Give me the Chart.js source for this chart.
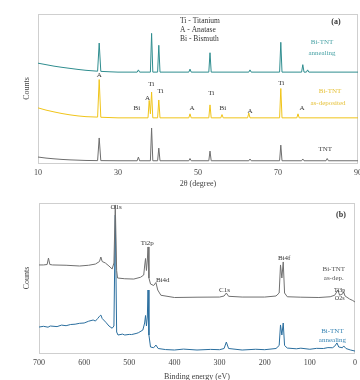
<!DOCTYPE html>
<html><head><meta charset="utf-8">
<script src="https://cdn.jsdelivr.net/npm/chart.js@4.4.1/dist/chart.umd.min.js"></script>
<style>
html,body{margin:0;padding:0;background:#fff;overflow:hidden}
#wrap{position:relative;width:360px;height:380px;overflow:hidden}
canvas{position:absolute;left:0}
</style></head><body>
<div id="wrap">
<canvas id="xrd" width="360" height="190" style="top:0"></canvas>
<canvas id="xps" width="360" height="192" style="top:190px"></canvas>
</div>
<script>
// ---------- XRD data (2θ in degrees, counts in arbitrary offset units) ----------
const xrdTicks = [10, 30, 50, 70, 90];
const annealTheta  = [10,12,14,16,18,20,22,24.9,25.3,25.7,28,30,34.8,35.1,35.4,36,38.1,38.4,38.7,39.9,40.2,40.5,44,47.7,48.0,48.3,52.7,53.0,53.3,58,62.7,63.0,63.3,70.4,70.7,71.0,75.9,76.2,76.5,77.1,77.4,77.7,82,90];
const annealCounts = [67,66,65,64.2,63.5,62.8,62.2,61.6,80.5,61.5,61.2,61,61,62.5,61,61,61,87,61,61,79,61,61,61,63,61,61,74,61,61,61,62.5,61,61,81,61,61,66,61,61,62.5,61,61,61];
const depTheta  = [10,12,14,16,18,20,22,24.9,25.3,25.7,30,35,37.5,37.8,38.1,38.4,38.7,39.9,40.2,40.5,44,47.7,48.0,48.3,52.7,53.0,53.3,55.7,56.0,56.3,62.4,62.7,63.0,70.4,70.7,71.0,74.7,75.0,75.3,90];
const depCounts = [37,35.5,34.3,33.2,32.3,31.6,31.1,30.8,56,30.7,30.3,30.3,30.3,42,33,47.6,30.3,30.3,42.3,30.3,30.3,30.3,33,30.3,30.3,39,30.3,30.3,32.5,30.3,30.3,33.5,30.3,30.3,50,30.3,30.3,33,30.3,30.3];
const tntTheta  = [10,12,14,16,18,20,22,24.9,25.3,25.7,30,34.8,35.1,35.4,38.1,38.4,38.7,39.9,40.2,40.5,47.7,48.0,48.3,52.7,53.0,53.3,62.7,63.0,63.3,70.4,70.7,71.0,75.9,76.2,76.5,82.0,82.3,82.6,90];
const tntCounts = [4,3.3,2.8,2.4,2.1,1.9,1.7,1.6,16.8,1.6,1.5,1.5,4,1.5,1.5,23.5,1.5,1.5,10,1.5,1.5,3,1.5,1.5,8,1.5,1.5,2.7,1.5,1.5,12,1.5,1.5,2.7,1.5,1.5,3,1.5,1.5];

// ---------- XPS data (binding energy in eV, counts in arbitrary offset units) ----------
const xpsTicks = [700, 600, 500, 400, 300, 200, 100, 0];
const depEnergy  = [700,690,682,679,676,670,640,610,590,575,566,563,560,553,545,538,534,531,528,526,510,490,475,468,466,464,462,460,458.5,456.5,453,446,441,437,430,400,350,300,290,285,280,250,200,175,168,165,162,159,156,150,120,80,55,45,38,34,27,25,22,12,5,0];
const depXps     = [58.7,58.7,59,63.3,59,58.7,58.5,58,58.5,59.3,61,64,61,60,58,56,60,98.7,55,50,49.5,49.3,50.5,52,58,63,55,62,70.7,50,46,45,47,42,38.5,37,37.2,37.3,38,40,37.8,37.3,37.3,38,40,58.7,50,60.7,40,37.5,37.2,37,37.5,38.5,42,38.5,39.5,40.7,38,36,35,34];
const annealEnergy = [700,690,680,675,660,650,640,630,620,610,600,590,580,575,570,566,563,560,552,545,538,534,531,528,525,515,510,500,495,485,480,470,466,464,462,460,458.5,456.5,453,446,441,436,420,400,380,350,320,300,290,285,280,250,220,200,175,168,165,162,159,156,150,130,120,100,85,70,60,50,45,40,36,28,25,20,10,0];
const annealXps    = [17.3,17.8,17.2,18,17.6,18.6,18.2,19,19.2,19.8,20,21.2,22,21.3,23,24.5,25.3,23,20.5,18,16.5,18,92,14,12,12.6,12,12.4,12.3,13,13.5,15.3,20,25,18,24,42,12,4,3.5,5.3,3,2.3,2,2.6,2,2.4,2.2,3,7.3,3,2,2.5,2.2,3,5,18.7,12,20,5,3.3,2.8,3.2,2.5,3.1,3,3.6,3.5,4.5,6.7,4,3.5,4.7,3,2,1.3];

const pts = (xs, ys) => xs.map((x, i) => ({x, y: ys[i]}));
const SERIF = '"Liberation Serif", "DejaVu Serif", serif';

const framePlugin = {
  id: 'frame',
  beforeDatasetsDraw(chart) {
    const {ctx, chartArea: a} = chart;
    ctx.save();
    ctx.strokeStyle = '#cfcfcf';
    ctx.lineWidth = 1;
    ctx.strokeRect(a.left + 0.5, a.top + 0.5, a.right - a.left - 1, a.bottom - a.top);
    ctx.restore();
  }
};
const notePlugin = {
  id: 'notes',
  afterDatasetsDraw(chart, args, opts) {
    const ctx = chart.ctx, xs = chart.scales.x, ys = chart.scales.y;
    ctx.save();
    ctx.textBaseline = 'middle';
    (opts.items || []).forEach(it => {
      ctx.font = (it.bold ? 'bold ' : '') + (it.size || 7) + 'px ' + SERIF;
      ctx.fillStyle = it.color || '#333';
      ctx.textAlign = it.align || 'center';
      ctx.fillText(it.text, xs.getPixelForValue(it.x), ys.getPixelForValue(it.y));
    });
    ctx.restore();
  }
};

function baseOptions(cfg) {
  return {
    responsive: false,
    animation: false,
    events: [],
    layout: {padding: cfg.pad},
    elements: {point: {radius: 0}, line: {borderWidth: 1, tension: 0}},
    plugins: {legend: {display: false}, tooltip: {enabled: false}, notes: {items: cfg.notes}},
    scales: {
      x: {
        type: 'linear', min: cfg.xmin, max: cfg.xmax, reverse: !!cfg.reverse,
        afterBuildTicks: s => { s.ticks = cfg.ticks.map(v => ({value: v})); },
        afterFit: s => { s.height = cfg.xh; s.paddingLeft = 0; s.paddingRight = 0; },
        grid: {display: false, drawTicks: false},
        border: {display: false},
        ticks: {font: {family: SERIF, size: 8}, color: '#444', padding: 5, maxRotation: 0, autoSkip: false},
        title: {display: true, text: cfg.xtitle, font: {family: SERIF, size: 8}, color: '#444', padding: {top: 0, bottom: cfg.titlePad}}
      },
      y: {
        min: 0, max: 100,
        afterFit: s => { s.width = cfg.yw; s.paddingTop = 0; s.paddingBottom = 0; },
        grid: {display: false, drawTicks: false},
        border: {display: false},
        ticks: {display: false},
        title: {display: true, text: 'Counts', font: {family: SERIF, size: 8}, color: '#444', padding: {top: 22, bottom: 0}}
      }
    }
  };
}

new Chart(document.getElementById('xrd'), {
  type: 'line',
  data: {datasets: [
    {data: pts(annealTheta, annealCounts), borderColor: '#2f8d8f'},
    {data: pts(depTheta, depCounts), borderColor: '#f0c419'},
    {data: pts(tntTheta, tntCounts), borderColor: '#6e6e6e'}
  ]},
  options: baseOptions({
    pad: {top: 14, right: 2, left: 0, bottom: 0},
    xmin: 10, xmax: 90, ticks: xrdTicks, xh: 27, yw: 38, titlePad: 1,
    xtitle: '2θ (degree)',
    notes: [
      {text: 'Ti - Titanium', x: 45.5, y: 95.3, align: 'left', size: 7.5},
      {text: 'A - Anatase', x: 45.5, y: 89.3, align: 'left', size: 7.5},
      {text: 'Bi - Bismuth', x: 45.5, y: 83.2, align: 'left', size: 7.5},
      {text: '(a)', x: 84.5, y: 94.6, bold: true, size: 8},
      {text: 'Bi-TNT', x: 81, y: 81.2, color: '#4aa3a6'},
      {text: 'annealing', x: 81, y: 73.8, color: '#4aa3a6'},
      {text: 'Bi-TNT', x: 83, y: 48.3, color: '#e6c23a'},
      {text: 'as-deposited', x: 82.5, y: 40.3, color: '#e6c23a'},
      {text: 'TNT', x: 81.8, y: 9.4, color: '#444'},
      {text: 'A', x: 25.3, y: 59},
      {text: 'Ti', x: 38.3, y: 53},
      {text: 'Ti', x: 40.6, y: 48.3},
      {text: 'A', x: 37.4, y: 43.6},
      {text: 'Bi', x: 34.7, y: 36.9},
      {text: 'Ti', x: 53.3, y: 47},
      {text: 'A', x: 48.5, y: 36.9},
      {text: 'Bi', x: 56.2, y: 36.9},
      {text: 'A', x: 63, y: 34.9},
      {text: 'Ti', x: 70.8, y: 53.7},
      {text: 'A', x: 76, y: 36.9}
    ]
  }),
  plugins: [framePlugin, notePlugin]
});

new Chart(document.getElementById('xps'), {
  type: 'line',
  data: {datasets: [
    {data: pts(depEnergy, depXps), borderColor: '#707070'},
    {data: pts(annealEnergy, annealXps), borderColor: '#2a6e9e'}
  ]},
  options: baseOptions({
    pad: {top: 13, right: 5, left: 0, bottom: 0},
    xmin: 0, xmax: 700, reverse: true, ticks: xpsTicks, xh: 29, yw: 39, titlePad: 0,
    xtitle: 'Binding energy (eV)',
    notes: [
      {text: '(b)', x: 31, y: 92, bold: true, size: 8},
      {text: 'O1s', x: 529, y: 97},
      {text: 'Ti2p', x: 460, y: 73},
      {text: 'Bi4d', x: 426, y: 48.7},
      {text: 'C1s', x: 289, y: 42},
      {text: 'Bi4f', x: 157, y: 63},
      {text: 'Bi-TNT', x: 47, y: 56, color: '#555'},
      {text: 'as-dep.', x: 47, y: 50, color: '#555'},
      {text: 'Ti3p', x: 34, y: 42, size: 6},
      {text: 'O2s', x: 34, y: 36.7, size: 6},
      {text: 'Bi-TNT', x: 50, y: 14.7, color: '#3a86b5'},
      {text: 'annealing', x: 50, y: 8.7, color: '#3a86b5'}
    ]
  }),
  plugins: [framePlugin, notePlugin]
});
</script>
</body></html>
